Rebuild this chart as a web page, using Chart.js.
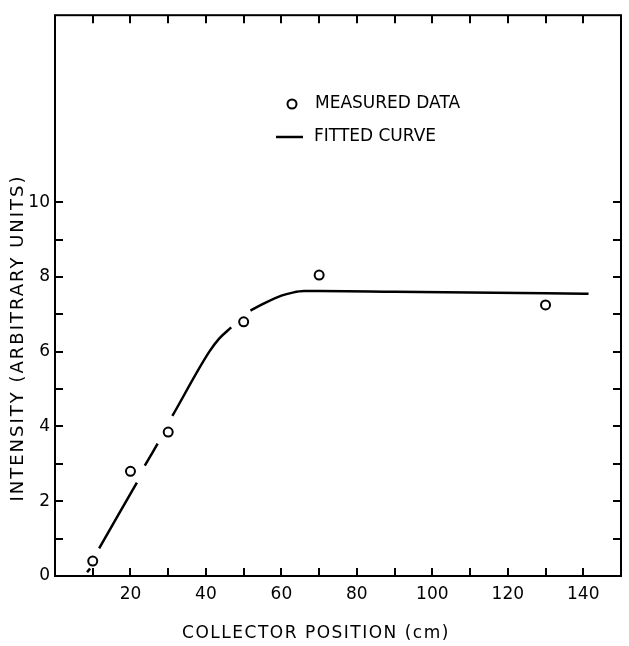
<!DOCTYPE html>
<html><head><meta charset="utf-8">
<script src="https://cdn.jsdelivr.net/npm/chart.js@4"></script>
<style>html,body{margin:0;padding:0;background:#fff;overflow:hidden}canvas{display:block}</style>
</head><body><canvas id="c" width="629" height="646"></canvas>
<script>
// ---- data ----
const measuredX = [10, 20, 30, 50, 70, 130];
const measuredY = [0.4, 2.8, 3.85, 6.8, 8.05, 7.25];
// fitted curve (null y = gap in the drawn line)
const curveX = [8.5, 9.3, 10.5, 11.7, 21.7, 22.7, 23.8, 27.2, 29, 31.1, 40.9, 43.5, 46.7, 49, 51.8, 55, 60, 63, 66, 70, 90, 110, 130, 141.4];
const curveY = [0.1, 0.2, null, 0.74, 2.5, null, 2.95, 3.54, null, 4.28, 6.0, 6.35, 6.65, null, 7.1, 7.27, 7.5, 7.58, 7.62, 7.62, 7.6, 7.58, 7.56, 7.55];
const xTickValues = [10, 20, 30, 40, 50, 60, 70, 80, 90, 100, 110, 120, 130, 140];
const xTickLabels = [20, 40, 60, 80, 100, 120, 140];
const yTickValues = [1, 2, 3, 4, 5, 6, 7, 8, 9, 10];
const yTickLabels = [0, 2, 4, 6, 8, 10];
const xTitle = 'COLLECTOR POSITION (cm)';
const yTitle = 'INTENSITY (ARBITRARY UNITS)';
const legendLabels = ['MEASURED DATA', 'FITTED CURVE'];

const FONT = '"DejaVu Sans", sans-serif';

const decor = {
  id: 'decor',
  afterDraw(chart) {
    const ctx = chart.ctx, a = chart.chartArea;
    const xs = chart.scales.x, ys = chart.scales.y;
    ctx.save();
    ctx.strokeStyle = '#000';
    ctx.lineWidth = 2;
    ctx.strokeRect(a.left, a.top, a.right - a.left, a.bottom - a.top);
    const L = 8;
    ctx.beginPath();
    xTickValues.forEach(v => {
      const px = Math.round(xs.getPixelForValue(v));
      ctx.moveTo(px, a.bottom); ctx.lineTo(px, a.bottom - L);
      ctx.moveTo(px, a.top); ctx.lineTo(px, a.top + L);
    });
    yTickValues.forEach(v => {
      const py = Math.round(ys.getPixelForValue(v));
      ctx.moveTo(a.left, py); ctx.lineTo(a.left + L, py);
      ctx.moveTo(a.right, py); ctx.lineTo(a.right - L, py);
    });
    ctx.stroke();
    // axis titles
    ctx.fillStyle = '#000';
    ctx.textAlign = 'center';
    ctx.textBaseline = 'middle';
    ctx.font = '17px ' + FONT;
    ctx.letterSpacing = '1.5px';
    ctx.fillText(xTitle, 316, 634);
    ctx.save();
    ctx.translate(18, 338);
    ctx.rotate(-Math.PI / 2);
    ctx.font = '18px ' + FONT;
    ctx.letterSpacing = '2px';
    ctx.fillText(yTitle, 0, 0);
    ctx.restore();
    ctx.letterSpacing = '0px';
    ctx.font = '17px ' + FONT;
    // legend
    ctx.textAlign = 'left';
    ctx.beginPath();
    ctx.arc(292, 104, 4.5, 0, Math.PI * 2);
    ctx.fillStyle = '#fff'; ctx.fill();
    ctx.stroke();
    ctx.fillStyle = '#000';
    ctx.fillText(legendLabels[0], 315, 104);
    ctx.lineWidth = 2.5;
    ctx.beginPath();
    ctx.moveTo(276, 137); ctx.lineTo(303, 137);
    ctx.stroke();
    ctx.fillText(legendLabels[1], 314, 137);
    ctx.restore();
  }
};

new Chart(document.getElementById('c'), {
  type: 'scatter',
  data: {
    datasets: [
      {
        label: 'FITTED CURVE',
        data: curveX.map((x, i) => ({ x, y: curveY[i] })),
        showLine: true,
        borderColor: '#000',
        borderWidth: 2.5,
        pointRadius: 0,
        spanGaps: false,
        cubicInterpolationMode: 'monotone',
        order: 2
      },
      {
        label: 'MEASURED DATA',
        data: measuredX.map((x, i) => ({ x, y: measuredY[i] })),
        showLine: false,
        pointStyle: 'circle',
        pointRadius: 4.5,
        pointBorderWidth: 2,
        borderColor: '#000',
        backgroundColor: '#fff',
        order: 1
      }
    ]
  },
  options: {
    responsive: false,
    animation: false,
    devicePixelRatio: 1,
    layout: { padding: { top: 13, right: 2, left: 0, bottom: 0 } },
    plugins: { legend: { display: false }, tooltip: { enabled: false } },
    scales: {
      x: {
        type: 'linear', min: 0, max: 150,
        grid: { display: false, drawTicks: false },
        border: { display: false },
        afterFit: s => { s.height = 70; },
        ticks: {
          stepSize: 10, autoSkip: false, maxRotation: 0, padding: 8,
          color: '#000', font: { family: FONT, size: 17 },
          callback: v => xTickLabels.includes(v) ? String(v) : ''
        }
      },
      y: {
        type: 'linear', min: 0, max: 15,
        grid: { display: false, drawTicks: false },
        border: { display: false },
        afterFit: s => { s.width = 55; },
        ticks: {
          stepSize: 1, autoSkip: false, padding: 5,
          color: '#000', font: { family: FONT, size: 17 },
          callback: v => yTickLabels.includes(v) ? String(v) : ''
        }
      }
    }
  },
  plugins: [decor]
});
</script>
</body></html>
